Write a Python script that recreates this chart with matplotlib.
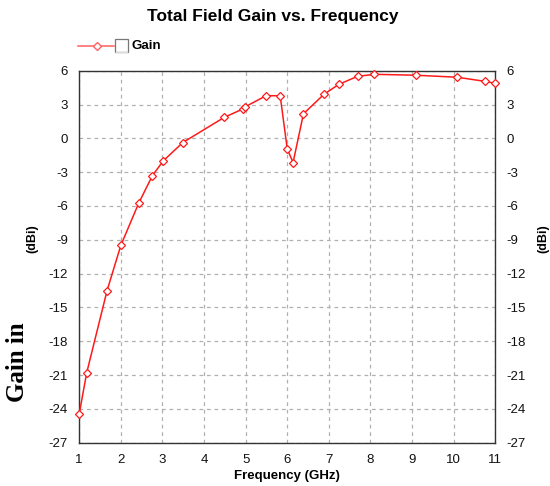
import numpy as np
import matplotlib
matplotlib.use("Agg")
import matplotlib.pyplot as plt
from matplotlib.lines import Line2D
from matplotlib.patches import Rectangle

# values
freq_ghz = [1.0, 1.18, 1.67, 2.0, 2.43, 2.76, 3.02, 3.49, 4.48, 4.94, 4.99,
            5.49, 5.83, 6.0, 6.14, 6.39, 6.88, 7.24, 7.69, 8.09, 9.09,
            10.09, 10.76, 11.0]
gain_dbi = [-24.45, -20.8, -13.5, -9.5, -5.75, -3.3, -2.0, -0.37, 1.85, 2.62, 2.8,
            3.78, 3.78, -0.93, -2.15, 2.18, 3.9, 4.79, 5.5, 5.68, 5.6,
            5.42, 5.05, 4.88]
x_ticks = list(range(1, 12))
y_ticks = list(range(-27, 7, 3))

plt.rcParams['font.family'] = ['Liberation Sans', 'DejaVu Sans']
plt.rcParams['axes.unicode_minus'] = False

fig = plt.figure(figsize=(5.5, 4.86), dpi=100)
ax = fig.add_axes([0.144, 0.089, 0.9005 - 0.144, 0.8545 - 0.089])

ax.plot(freq_ghz, gain_dbi, color='#ff1a1a', lw=1.1, marker='D', ms=4,
        mfc='white', mec='#ff1a1a', mew=0.9, zorder=3, clip_on=False)

ax.set_xlim(1, 11)
ax.set_ylim(-27, 6)
ax.set_xticks(x_ticks)
ax.set_yticks(y_ticks)
ax.grid(True, color='#b0b0b0', linestyle=(0, (3, 3)), lw=0.9)
ax.tick_params(length=0, labelsize=9.5, pad=8, colors='#111111')
ax.tick_params(axis='y', right=True, labelright=True)
for s in ax.spines.values():
    s.set_color('#333333')
    s.set_linewidth(1.0)

ax.set_xlabel('Frequency (GHz)', fontsize=9.5, fontweight='bold', labelpad=3)

fig.text(273 / 550, 1 - 17 / 486, 'Total Field Gain vs. Frequency', ha='center', va='center',
         fontsize=12.5, fontweight='bold')

# y labels on both sides
fig.text(32 / 550, 1 - 239 / 486, '(dBi)', rotation=90, ha='center', va='center',
         fontsize=9, fontweight='bold')
fig.text(543 / 550, 1 - 239 / 486, '(dBi)', rotation=90, ha='center', va='center',
         fontsize=9, fontweight='bold')
fig.text(17 / 550, 1 - 362 / 486, 'Gain in', rotation=90, ha='center', va='center',
         fontsize=18, fontweight='bold', family=['Liberation Serif', 'DejaVu Serif'])

# legend drawn by hand: line with marker, empty box, label
ly = 1 - 46 / 486
fig.add_artist(Line2D([78 / 550, 114 / 550], [ly, ly], color='#ff6060', lw=1.1,
                      transform=fig.transFigure))
fig.add_artist(Line2D([97 / 550], [ly], color='#ff6060', marker='D', ms=4,
                      mfc='white', mec='#ff6060', transform=fig.transFigure))
fig.add_artist(Rectangle((115 / 550, ly - 6.5 / 486), 13 / 550, 13 / 486, fill=False,
                         ec='#777777', lw=0.9, transform=fig.transFigure))
fig.add_artist(Line2D([116 / 550, 127 / 550], [ly - 6 / 486, ly - 6 / 486], color='#dddddd',
                      lw=1, transform=fig.transFigure))
fig.text(131 / 550, ly, 'Gain', ha='left', va='center', fontsize=9.5, fontweight='bold')

fig.savefig('out.png', dpi=100)
